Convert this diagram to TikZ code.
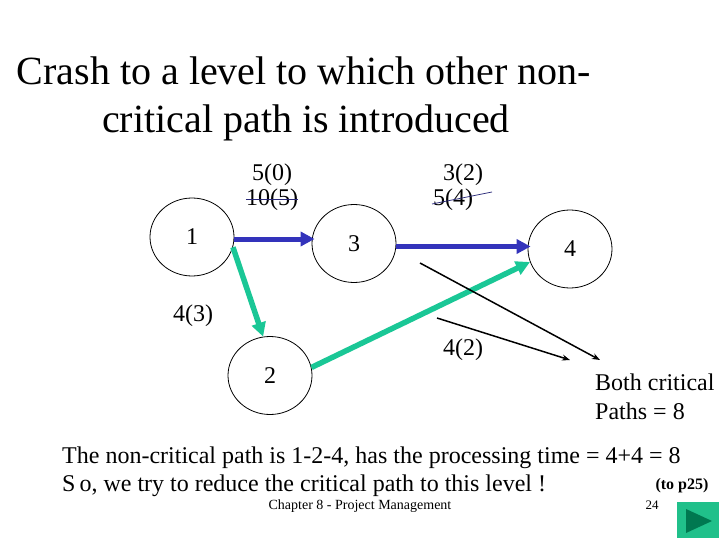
\documentclass[tikz,border=0pt]{standalone}
\usepackage{fontspec}
\setmainfont{Liberation Serif}
\usetikzlibrary{shapes.geometric,arrows.meta}
\definecolor{blueedge}{RGB}{51,51,187}
\definecolor{tealedge}{RGB}{26,199,150}
\definecolor{btnfill}{RGB}{32,192,138}
\definecolor{btntri}{RGB}{0,120,80}
\definecolor{strikec}{RGB}{40,40,120}
\begin{document}
\begin{tikzpicture}[x=1pt,y=-1pt,
  event/.style={draw,ellipse,line width=0.8pt,minimum width=84pt,minimum height=78pt,inner sep=0pt,font=\fontsize{24}{28}\selectfont},
  lbl/.style={inner sep=0pt,font=\fontsize{24}{28}\selectfont},
  crit/.style={draw=blueedge,line width=5pt,-{Triangle[length=14pt,width=14pt]},shorten >=-3pt},
  noncrit/.style={draw=tealedge,line width=5.5pt,-{Triangle[length=14pt,width=14pt]}},
  pointer/.style={draw=black,line width=1.5pt,-{Stealth[length=8pt,width=6pt]}},
  strike/.style={draw=strikec,line width=0.7pt}]
\useasboundingbox (0,0) rectangle (720,540);
\fill[white] (0,0) rectangle (720,540);
% title
\node[inner sep=0pt,anchor=base,font=\fontsize{40}{48}\selectfont] (t1) at (304,85) {Crash to a level to which other non-};
\node[inner sep=0pt,anchor=base,font=\fontsize{40}{48}\selectfont] (t2) at (306,133) {critical path is introduced};
% events
\node[event] (n1) at (192,237) {1};
\node[event] (n3) at (354,243.5) {3};
\node[event] (n4) at (570,249) {4};
\node[event] (n2) at (270,375.5) {2};
% edges
\draw[crit] (n1.east |- 0,239) -- (n3.west |- 0,239);
\draw[crit] (n3.east |- 0,246.5) -- (n4.west |- 0,246.5);
\draw[noncrit] (n1.-14) -- (n2.100);
\draw[noncrit] (n2.11) -- (n4.198);
% labels
\node[lbl] (l50) at (272,175) {5(0)};
\node[lbl] (l105) at (272,200) {10(5)};
\draw[strike] (l105.west |- 0,199) -- (l105.east |- 0,199);
\node[lbl] (l32) at (463,175) {3(2)};
\node[lbl] (l54) at (453,200) {5(4)};
\coordinate (s54a) at (432,204);
\coordinate (s54b) at (492,192);
\draw[strike] (s54a) -- (s54b);
\node[lbl] (l43) at (193,316) {4(3)};
\node[lbl] (l42) at (463,350) {4(2)};
% note
\node[lbl,anchor=west] (both) at (595,382) {Both critical};
\node[lbl,anchor=west] (paths) at (595,411) {Paths = 8};
\coordinate (p1s) at (420,263);
\coordinate (p1e) at (600,360);
\coordinate (p2s) at (437,318);
\coordinate (p2e) at (570,360);
\draw[pointer] (p1s) -- (p1e);
\draw[pointer] (p2s) -- (p2e);
% bottom text
\node[lbl,anchor=west] (b1) at (62,458) {The non-critical path is 1-2-4, has the processing time = 4+4 = 8};
\node[lbl,anchor=west] (b2) at (62,486) {S\,o, we try to reduce the critical path to this level !};
\node[inner sep=0pt,font=\fontsize{14}{16}\selectfont] (chap) at (360,506) {Chapter 8 - Project Management};
\node[inner sep=0pt,font=\bfseries\fontsize{16}{18}\selectfont] (top25) at (682,486) {(to p25)};
\node[inner sep=0pt,font=\fontsize{13}{15}\selectfont] (pg) at (652,505) {24};
% button
\fill[btnfill] (677,502) rectangle (719,538);
\fill[btntri] (686,509) -- (712,521) -- (686,533) -- cycle;
\end{tikzpicture}
\end{document}
